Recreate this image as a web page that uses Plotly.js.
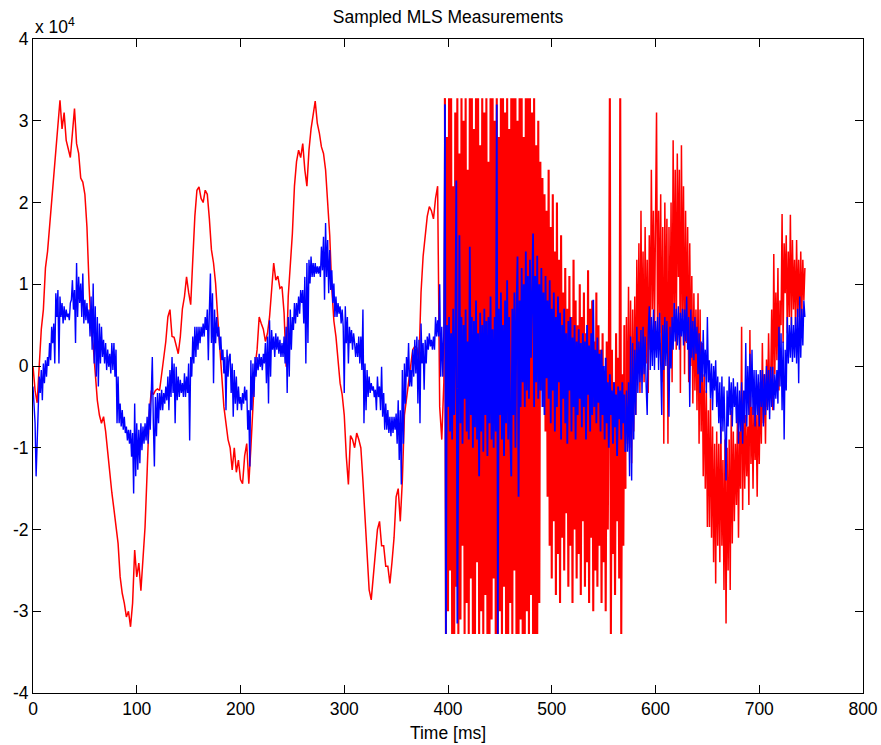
<!DOCTYPE html>
<html><head><meta charset="utf-8">
<script src="https://cdn.plot.ly/plotly-3.0.1.min.js"></script>
<style>html,body{margin:0;padding:0;background:#fff}#chart{width:881px;height:745px}</style>
</head><body><div id="chart"></div>
<script>
// Time axes [ms]
const tRed1 = [
0,2,4,6,8,10,12,14,16,18,
20,22,24,26,28,30,32,34,36,38,
40,42,44,46,48,50,52,54,56,58,
60,62,64,66,68,70,72,74,76,78,
80,82,84,86,88,90,92,94,96,98,
100,102,104,106,108,110,112,114,116,118,
120,122,124,126,128,130,132,134,136,138,
140,142,144,146,148,150,152,154,156,158,
160,162,164,166,168,170,172,174,176,178,
180,182,184,186,188,190,192,194,196,198,
200,202,204,206,208,210,212,214,216,218,
220,222,224,226,228,230,232,234,236,238,
240,242,244,246,248,250,252,254,256,258,
260,262,264,266,268,270,272,274,276,278,
280,282,284,286,288,290,292,294,296,298,
300,302,304,306,308,310,312,314,316,318,
320,322,324,326,328,330,332,334,336,338,
340,342,344,346,348,350,352,354,356,358,
360,362,364,366,368,370,372,374,376,378,
380,382,384,386,388,390,392,394,396];
const tBlue1 = [
0,1,2,3,4,5,6,7,8,9,
10,11,12,13,14,15,16,17,18,19,
20,21,22,23,24,25,26,27,28,29,
30,31,32,33,34,35,36,37,38,39,
40,41,42,43,44,45,46,47,48,49,
50,51,52,53,54,55,56,57,58,59,
60,61,62,63,64,65,66,67,68,69,
70,71,72,73,74,75,76,77,78,79,
80,81,82,83,84,85,86,87,88,89,
90,91,92,93,94,95,96,97,98,99,
100,101,102,103,104,105,106,107,108,109,
110,111,112,113,114,115,116,117,118,119,
120,121,122,123,124,125,126,127,128,129,
130,131,132,133,134,135,136,137,138,139,
140,141,142,143,144,145,146,147,148,149,
150,151,152,153,154,155,156,157,158,159,
160,161,162,163,164,165,166,167,168,169,
170,171,172,173,174,175,176,177,178,179,
180,181,182,183,184,185,186,187,188,189,
190,191,192,193,194,195,196,197,198,199,
200,201,202,203,204,205,206,207,208,209,
210,211,212,213,214,215,216,217,218,219,
220,221,222,223,224,225,226,227,228,229,
230,231,232,233,234,235,236,237,238,239,
240,241,242,243,244,245,246,247,248,249,
250,251,252,253,254,255,256,257,258,259,
260,261,262,263,264,265,266,267,268,269,
270,271,272,273,274,275,276,277,278,279,
280,281,282,283,284,285,286,287,288,289,
290,291,292,293,294,295,296,297,298,299,
300,301,302,303,304,305,306,307,308,309,
310,311,312,313,314,315,316,317,318,319,
320,321,322,323,324,325,326,327,328,329,
330,331,332,333,334,335,336,337,338,339,
340,341,342,343,344,345,346,347,348,349,
350,351,352,353,354,355,356,357,358,359,
360,361,362,363,364,365,366,367,368,369,
370,371,372,373,374,375,376,377,378,379,
380,381,382,383,384,385,386,387,388,389,
390,391,392,393,394,395,396];
const t2 = [
397,398,399,400,401,402,403,404,405,406,
407,408,409,410,411,412,413,414,415,416,
417,418,419,420,421,422,423,424,425,426,
427,428,429,430,431,432,433,434,435,436,
437,438,439,440,441,442,443,444,445,446,
447,448,449,450,451,452,453,454,455,456,
457,458,459,460,461,462,463,464,465,466,
467,468,469,470,471,472,473,474,475,476,
477,478,479,480,481,482,483,484,485,486,
487,488,489,490,491,492,493,494,495,496,
497,498,499,500,501,502,503,504,505,506,
507,508,509,510,511,512,513,514,515,516,
517,518,519,520,521,522,523,524,525,526,
527,528,529,530,531,532,533,534,535,536,
537,538,539,540,541,542,543,544,545,546,
547,548,549,550,551,552,553,554,555,556,
557,558,559,560,561,562,563,564,565,566,
567,568,569,570,571];
const t3 = [
572,573,574,575,576,577,578,579,580,581,
582,583,584,585,586,587,588,589,590,591,
592,593,594,595,596,597,598,599,600,601,
602,603,604,605,606,607,608,609,610,611,
612,613,614,615,616,617,618,619,620,621,
622,623,624,625,626,627,628,629,630,631,
632,633,634,635,636,637,638,639,640,641,
642,643,644,645,646,647,648,649,650,651,
652,653,654,655,656,657,658,659,660,661,
662,663,664,665,666,667,668,669,670,671,
672,673,674,675,676,677,678,679,680,681,
682,683,684,685,686,687,688,689,690,691,
692,693,694,695,696,697,698,699,700,701,
702,703,704,705,706,707,708,709,710,711,
712,713,714,715,716,717,718,719,720,721,
722,723,724,725,726,727,728,729,730,731,
732,733,734,735,736,737,738,739,740,741,
742,743,744];

// Red measurement
const red1 = [
0,-3000,-4500,0,4500,6900,12000,14000,17000,20300,
23600,27000,30000,32500,29000,31000,27600,26500,25500,28500,
31500,27200,26000,23000,22500,21000,17000,10000,4500,2500,
-1300,-4200,-6000,-7000,-6200,-8000,-10500,-13500,-15500,-17500,
-19500,-21700,-25800,-27800,-29000,-30700,-30000,-31900,-29000,-22500,
-25800,-24100,-27500,-23700,-19700,-13000,-6000,-3000,-3500,-3000,
-2800,-3000,-1000,500,3000,6000,6900,3600,3500,2500,
1500,3600,7000,8500,10900,9000,7500,13000,18300,21500,
21900,20500,20000,21500,21000,18000,14200,12600,10100,6000,
2800,-1300,-5000,-7000,-9000,-10000,-12700,-10000,-13000,-11500,
-13900,-14400,-11000,-9500,-14400,-10000,-5000,0,2000,6000,
5200,4500,3000,4000,6000,10000,12600,10500,11000,9500,
9700,6500,-100,8500,12600,16200,22000,25000,26400,25500,
27200,24000,22000,26400,29000,30500,32400,29700,28500,26800,
26000,24000,20000,16000,9500,5500,3600,300,-2100,-3500,
-6000,-11100,-14500,-8500,-9000,-10000,-8200,-9000,-10000,-14000,
-19000,-24000,-27400,-28600,-25400,-22900,-20000,-19000,-22000,-22000,
-24500,-24500,-26600,-24000,-21000,-16000,-15000,-19000,-14000,-6000,
-4000,-1300,700,2000,2400,2200,500,9000,13400,15800,
18300,19500,19000,18000,20500,22000,-5000,-9000,-2000];
const red2 = [
32767,-32768,28000,-30000,32767,-25000,32767,-32768,22000,-32768,
31000,-27000,32767,-32768,26000,-31000,32767,-22000,30000,-32768,
32767,-29000,24000,-32768,32767,-26000,32767,-32768,29000,-32768,
32767,-24000,32767,-32768,27000,-30000,32767,-32768,31000,-28000,
32767,-32768,25000,-32768,32767,-31000,32767,-26000,30000,-32768,
32767,-32768,28000,-30000,32767,-32768,32767,-27000,31000,-32768,
32767,-32768,29000,-29000,32767,-32768,32767,-25000,32767,-32768,
30000,-32768,32767,-31000,32767,-32768,28000,-32768,32767,-30000,
32767,-32768,32767,-28000,31000,-32768,32767,-32768,27000,-32768,
30000,-29000,25000,-3000,23000,-5000,21000,-8000,19000,-16000,
24000,-22000,17000,-26000,21000,-19000,14000,-28000,20000,-23000,
13000,-29000,16000,-21000,9000,-25000,12000,-18000,7000,-27000,
11000,-22000,6000,-29000,13000,-20000,8000,-26000,5000,-23000,
10000,-28000,6000,-19000,9000,-27000,4000,-24000,11700,-29000,
7000,-21000,8000,-30000,3000,-25000,9000,-27000,5000,-22000,
2000,-29000,4000,-24000,-1000,-30000,3000,-20000,0,32767,
-32768,2000,-23000,-2000,-28000,4000,-19000,1000,-26000,32767,
-32768,-1000,-22000,5000,-15000];
const red3 = [
6000,-9500,9700,-10000,8000,-11900,6900,-8000,8500,-6000,
13000,-1000,15000,-3300,19000,700,14000,-2000,17000,300,
13000,-3300,16000,2000,24000,6900,19000,4000,21000,31000,
2800,19000,4000,21000,-2000,17000,-9500,20000,2800,18000,
-9500,17000,0,20000,-2000,27600,5000,24000,2000,26000,
10900,24000,-3300,27000,6000,22000,-1000,19000,2800,17000,
-2000,15000,0,11000,-4600,8900,-3000,6900,-5400,8900,
-9500,6900,-8000,2800,-13500,-1000,-15000,-3000,-19700,-5400,
-19700,-4000,-21000,-7400,-24000,-9500,-26600,-8000,-22000,-9500,
-24000,-7400,-22000,-11500,-27400,-9000,-31500,-10000,-25000,-9000,
-27400,-5400,-21700,-8000,-19000,-9500,-17000,-6000,-21000,-8000,
-15000,4800,-17600,-3300,-15000,-6000,-13500,-7400,-17000,4400,
-12000,-5000,-15000,-4000,-11500,-6000,-16000,-3300,-12000,-2000,
-9500,2800,-7000,-1000,-9500,800,-5000,4000,-3300,-2000,
6900,-5400,13700,-1000,9000,700,12000,-3000,8000,5000,
18600,2800,15000,8900,16000,4000,14000,6000,18500,5000,
15400,6900,13000,4800,15400,6000,13000,5000,14000,6000,
13000,8000,12000];

// Blue measurement
const blue1 = [
-2500,-5400,-7000,-13500,-9000,-7400,-1300,-3300,-500,-4200,
300,-2100,700,-1300,1100,0,2800,700,4800,2800,
5200,300,8900,6000,9300,300,8500,6000,7700,5200,
7300,5600,6900,6000,6400,5600,7700,8100,10500,6900,
9300,2800,12600,6000,10900,7700,10100,6000,11300,5200,
8100,5600,7700,5200,6900,3600,8500,2000,10100,300,
7300,-1300,6000,-2500,5200,300,4800,1100,3200,300,
2800,-500,2000,-100,1500,-900,2800,-500,2800,-1300,
2000,-7000,-1300,-7000,-4600,-7400,-5400,-7800,-6200,-8200,
-7400,-9100,-7800,-9500,-7800,-11100,-8200,-15600,-4600,-13500,
-7000,-12700,-7800,-11900,-7000,-10300,-7400,-9500,-7000,-9100,
-6200,-9500,-4600,-7800,-4200,1100,-7000,-12300,-3800,-8600,
-3300,-7000,-3300,-5400,-2900,-5400,-3300,-4600,-2500,-4200,
-1300,-5400,-500,-3800,1100,-3300,300,-7000,-100,-4200,
-1300,-3800,-1700,-3300,-2100,-3800,-900,-3800,-1300,-3300,
300,-9100,1100,-1300,3600,300,4800,1100,4800,2000,
4800,2800,4800,3600,5200,3600,6000,4400,6900,700,
6900,11300,2800,8900,-2100,6900,2800,6000,3600,4800,
2000,3600,700,2000,-900,1100,-5400,2000,-1300,1100,
1500,-3300,300,-6200,-500,-4600,-1300,-5400,-2500,-4600,
-3800,-5400,-3300,-4600,-2500,-4200,-2900,-7800,-5400,-12300,
700,-5400,300,-3800,1100,-1300,1100,-500,1500,-100,
1100,-500,1500,300,2800,-2100,3600,-4600,5600,-1300,
4400,2000,3600,1100,4000,2000,3600,1500,3200,1100,
2800,1100,3600,300,4800,-3300,6000,-1300,6900,2000,
6000,4400,7700,5200,7700,6000,8500,6400,9300,7700,
9300,5200,10900,300,12600,2800,13000,10100,13400,10900,
12600,10900,12600,11300,12200,11300,12200,10900,14600,11700,
15800,8100,17500,10900,15400,8900,14200,9300,11700,7700,
10100,6000,8500,6000,7700,6400,7300,5200,6900,4800,
-3300,7300,2800,6000,300,4800,2800,4400,2000,4000,
2800,1100,2800,1100,3600,300,3600,-500,6900,-7000,
300,-5400,-500,-3800,-1300,-3300,-2100,-3000,-2500,-3800,
-2900,-5400,-1300,-3800,-2500,-5400,-100,-6200,-3300,-7800,
-4600,-7800,-5400,-8200,-6200,-8600,-6200,-8200,-6200,-7800,
-5800,-9500,-4200,-11500,-5400,-14500,-500,-9500,300,-4600,
1100,-1300,2800,-2500,-500,-2500,2000,-1300,3200,-900,
3600,-4600,3200,-7000,5200,300,2800,-2900,3200,300,
3600,2000,4000,2400,3200,2000,3600,2000,6000,3600,
5600,3600,10000,-1300,4800,-1300,4400];
const blue2 = [
32000,-32768,5000,-5000,6000,-8000,4000,-9000,7000,-6000,
3000,22700,-31500,5000,16000,-7000,6000,-9500,5000,-4000,
6900,-8000,3000,-9000,14600,-6000,6000,-10000,5500,-7500,
8000,-9000,4000,-13500,6500,-8000,5000,-10500,7000,-6000,
5500,-11000,6000,-7000,8500,-9000,4500,-10000,6000,-8000,
32000,-32768,7000,-6000,9000,-9000,5000,-11000,8000,-7000,
10500,-9000,6000,-8500,-13500,7000,-6000,9000,-10000,6500,
13400,-16000,8000,-5000,12000,-2000,10000,-5000,14000,-3000,
11000,-4000,13000,1000,12000,16200,-5000,11000,-2000,13500,
-4000,10000,-3000,12000,-5000,9000,-6000,11000,-1500,8000,
-4000,10500,-7000,7000,-3000,9000,-8000,6000,-5000,8500,
-2000,6500,-9000,5000,-4000,7000,-7000,4000,-9500,5500,
-3000,6000,-8000,3500,-5000,5000,-9000,3000,-6000,4500,
-4000,2800,-7500,4000,-5000,3000,-9000,5000,-3500,2500,
-8000,4000,-6000,8100,-5000,2000,-7000,3500,-4500,1500,
-8000,2000,-6000,0,-9000,1000,-7000,-2000,-10000,-1000,
-6000,-3000,-9500,-2000,-7500,-3500,-11000,-2500,-6500,-3000,
-9000,-2000,-7000,-3500,-10500];
const blue3 = [
-3000,-10500,-2000,-13500,3600,-14000,2800,-9000,2000,-6000,
4800,-3300,3000,-2000,4400,-3300,4800,-1000,3600,-2500,
-6000,4000,7300,-500,6000,0,6900,-500,5500,1000,
6000,-500,6500,300,-6000,5000,-500,6000,0,5500,
-500,-6200,4800,-300,6000,2000,7700,3000,7000,2500,
7300,2000,6500,3600,7000,2500,6900,3000,8500,2000,
6000,-5000,6900,1000,5500,700,6000,1500,4800,-1000,
4000,-3300,3000,-2000,4400,-1300,2000,-3300,6000,-2000,
700,-4000,300,-5400,0,-3000,700,-5000,-1300,-7000,
-2000,-9500,-1300,-8000,-2500,-9500,-14000,-3000,-7400,-1300,
-6000,-2000,-7400,-1500,-5000,-2500,-7000,-2000,-9500,-3000,
-8000,-2000,-9500,-3000,-7000,2800,-7400,0,-6000,1500,
-5000,2000,-6000,-500,-7400,-500,-6000,-1000,-7400,-500,
-5000,-500,-7400,-1000,-6000,0,-5400,-500,-6500,-100,
-5000,-100,-5400,-1000,-4000,-500,-4600,4800,-2500,4000,
-5400,3000,-9000,2000,-3000,6000,300,5000,1000,6000,
500,5000,1000,6000,300,7000,-2100,8500,1000,7000,
2500,8000,6000];

// Axis ticks
const xTickVals = [0,100,200,300,400,500,600,700,800];
const xTickText = ['0','100','200','300','400','500','600','700','800'];
const yTickVals = [-40000,-30000,-20000,-10000,0,10000,20000,30000,40000];
const yTickText = ['-4','-3','-2','-1','0','1','2','3','4'];

const n2 = t2.length - 1;
// Segments joined at their shared end samples (the saturated middle part is drawn with a heavier stroke)
const segs = [
  {x: tRed1.concat([t2[0]]), y: red1.concat([red2[0]]), c: '#ff0000', w: 1.5},
  {x: t2, y: red2, c: '#ff0000', w: 2.1},
  {x: [t2[n2]].concat(t3), y: [red2[n2]].concat(red3), c: '#ff0000', w: 1.5},
  {x: tBlue1.concat([t2[0]]), y: blue1.concat([blue2[0]]), c: '#0000ff', w: 1.4},
  {x: t2, y: blue2, c: '#0000ff', w: 1.8},
  {x: [t2[n2]].concat(t3), y: [blue2[n2]].concat(blue3), c: '#0000ff', w: 1.4}
];

const font = {family: 'Liberation Sans, Arial, Helvetica, sans-serif', size: 17.5, color: '#000'};

const traces = segs.map(s => ({x: s.x, y: s.y, type: 'scatter', mode: 'lines',
  line: {color: s.c, width: s.w}, hoverinfo: 'skip'}));

const axisCommon = {
  ticks: 'inside', ticklen: 8, tickwidth: 1, tickcolor: '#000',
  showline: true, linecolor: '#000', linewidth: 1, mirror: 'ticks',
  showgrid: false, zeroline: false, tickfont: font, automargin: false
};

const layout = {
  width: 881, height: 745,
  margin: {l: 33, r: 18, t: 39, b: 52},
  paper_bgcolor: '#fff', plot_bgcolor: '#fff',
  showlegend: false,
  font: font,
  title: {text: 'Sampled MLS Measurements', font: font, x: 0.5, xref: 'paper', xanchor: 'center',
          y: 1 - 17/745, yref: 'container', yanchor: 'middle'},
  xaxis: Object.assign({}, axisCommon, {
    range: [0, 800], tickmode: 'array', tickvals: xTickVals, ticktext: xTickText,
    title: {text: 'Time [ms]', font: font, standoff: 8}
  }),
  yaxis: Object.assign({}, axisCommon, {
    range: [-40000, 40000], tickmode: 'array', tickvals: yTickVals, ticktext: yTickText
  }),
  annotations: [{
    text: 'x 10<sup>4</sup>', xref: 'paper', yref: 'paper', x: 0, y: 1,
    xanchor: 'left', yanchor: 'bottom', showarrow: false, font: font, yshift: 0
  }]
};

Plotly.newPlot('chart', traces, layout, {staticPlot: true});
</script>
</body></html>
